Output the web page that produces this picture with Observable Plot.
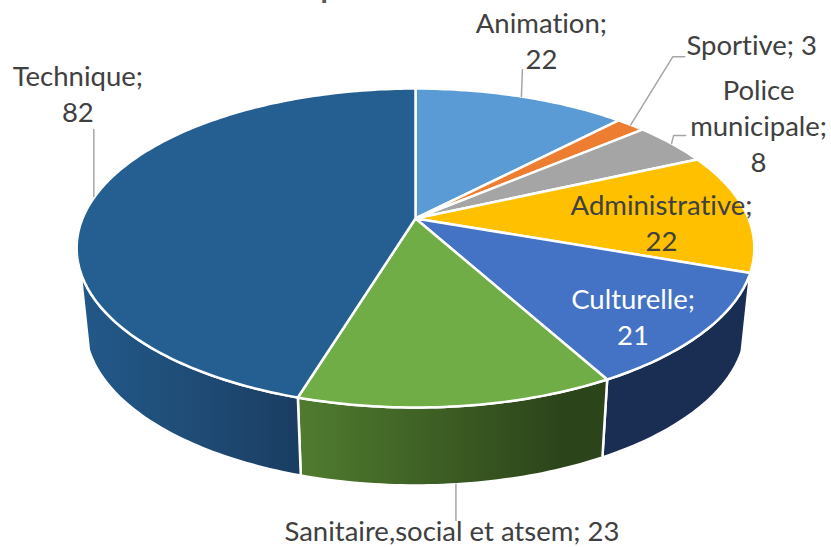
<!DOCTYPE html>
<html lang="fr">
<head>
<meta charset="utf-8">
<style>
html,body{margin:0;padding:0;background:#fff;overflow:hidden}
svg{display:block}
svg text{font-variant-ligatures:none}
</style>
<script src="https://cdn.jsdelivr.net/npm/d3@7"></script>
<script src="https://cdn.jsdelivr.net/npm/@observablehq/plot@0.6"></script>
</head>
<body>
<div id="chart"></div>
<script>
// Data, clockwise from 12 o'clock
const categories = ["Animation","Sportive","Police municipale","Administrative","Culturelle","Sanitaire,social et atsem","Technique"];
const values = [22,3,8,22,21,23,82];
const labelTexts = ["Animation;\n22","Sportive; 3","Police\nmunicipale;\n8","Administrative;\n22","Culturelle;\n21","Sanitaire,social et atsem; 23","Technique;\n82"];

// Styles
const topColors = ["#5b9bd5","#ed7d31","#a5a5a5","#ffc000","#4472c4","#70ad47","#255e91"];
const labelColors = ["#404040","#404040","#404040","#404040","#ffffff","#404040","#404040"];

// Scene: perspective of the disc and pixel scale of one disc radius
const W = 831, H = 547;
const cxPx = 415, cyPx = 218, unitX = 333, unitY = 154, tilt = 0.185;
const depth = 78 / unitY, shrink = 0.975;
const px = v => v / unitX, py = v => v / unitY;

function rim(deg, bottom = false) {
  const t = deg * Math.PI / 180, u = Math.sin(t), v = Math.cos(t), d = 1 + tilt * v;
  return bottom ? {x: shrink * u / d, y: v / d - depth} : {x: u / d, y: v / d};
}
const range = (a, b) => { const n = Math.max(1, Math.ceil(Math.abs(b - a))); return d3.range(n + 1).map(i => a + (b - a) * i / n); };

const total = d3.sum(values);
const cum = d3.cumsum(values).map(c => c / total * 360);
const slices = values.map((v, i) => ({i, a0: i ? cum[i - 1] : 0, a1: cum[i]}));
slices.forEach(s => s.mid = (s.a0 + s.a1) / 2);

const closed = pts => [...pts, pts[0]];
const topFace = s => closed([{x: 0, y: 0}, ...range(s.a0, s.a1).map(a => rim(a))]);
const sideFace = (a0, a1) => closed([...range(a0, a1).map(a => rim(a)), ...range(a1, a0).map(a => rim(a, true))]);

// Visible walls of the disc
const sides = [
  {pts: sideFace(slices[3].a1 - 0.7, slices[3].a1), fill: "#b39a55"},
  {pts: sideFace(slices[4].a0, slices[4].a1), fill: "#1a2d52"},
  {pts: sideFace(slices[5].a0, slices[5].a1), fill: "url(#sideGreen)"},
  {pts: sideFace(slices[6].a0, 251), fill: "url(#sideBlue)"}
];

// Label placement relative to each slice's rim midpoint, in pixels [dx, dy]
const labelOffset = [[20,-57],[121,-81],[87,-19],[-84,10],[-71,-16],[-6,123],[-17,-104]];
const labelLeader = [
  [[0,0],[1,-27]],
  [[0,0],[42,-68],[54,-68]],
  [[0,0],[2,-8],[14,-8]],
  null,
  null,
  [[-2,78],[-2,114]],
  [[-1,0],[-1,-67]]
];

const labels = slices.map(s => {
  const a = rim(s.mid), o = labelOffset[s.i];
  return {x: a.x + px(o[0]), y: a.y - py(o[1]), text: labelTexts[s.i], color: labelColors[s.i]};
});
const leaders = slices.flatMap(s => {
  const l = labelLeader[s.i];
  if (!l) return [];
  const a = rim(s.mid);
  return [l.map(o => ({x: a.x + px(o[0]), y: a.y - py(o[1])}))];
});

function gradient(defs, id, stops) {
  const g = defs.append("linearGradient").attr("id", id).attr("x1", 0).attr("x2", 1).attr("y1", 0).attr("y2", 0);
  stops.forEach(([o, c]) => g.append("stop").attr("offset", o).attr("stop-color", c));
}
const defsMark = () => {
  const defs = d3.create("svg:defs");
  gradient(defs, "sideBlue", [[0, "#22588a"], [0.4, "#204f7a"], [1, "#1a3d62"]]);
  gradient(defs, "sideGreen", [[0, "#507c2f"], [0.85, "#2c441a"], [1, "#2c441a"]]);
  return defs.node();
};

const chart = Plot.plot({
  width: W, height: H,
  margin: 0,
  style: {background: "#fff", fontFamily: "Lato, sans-serif"},
  x: {domain: [-cxPx / unitX, (W - cxPx) / unitX], range: [0, W], axis: null},
  y: {domain: [(cyPx - H) / unitY, cyPx / unitY], range: [H, 0], axis: null},
  marks: [
    defsMark,
    ...sides.map(s => Plot.line(s.pts, {x: "x", y: "y", fill: s.fill, stroke: "#fff", strokeWidth: 2.5, strokeLinejoin: "round"})),
    ...slices.map(s => Plot.line(topFace(s), {x: "x", y: "y", fill: topColors[s.i], stroke: "#fff", strokeWidth: 2.5, strokeLinejoin: "round"})),
    ...leaders.map(l => Plot.line(l, {x: "x", y: "y", stroke: "#a6a6a6", strokeWidth: 1.5})),
    Plot.text(labels, {x: "x", y: "y", text: "text", fill: "color", fontSize: 27.5, lineHeight: 36 / 27.5, textAnchor: "middle", lineAnchor: "middle"}),
    Plot.text(["p"], {frameAnchor: "top-left", dx: 320, dy: -24, text: d => d, fontSize: 30, fontWeight: 700, fill: "#595959", textAnchor: "start", lineAnchor: "top"})
  ]
});
document.getElementById("chart").append(chart);
</script>
</body>
</html>
